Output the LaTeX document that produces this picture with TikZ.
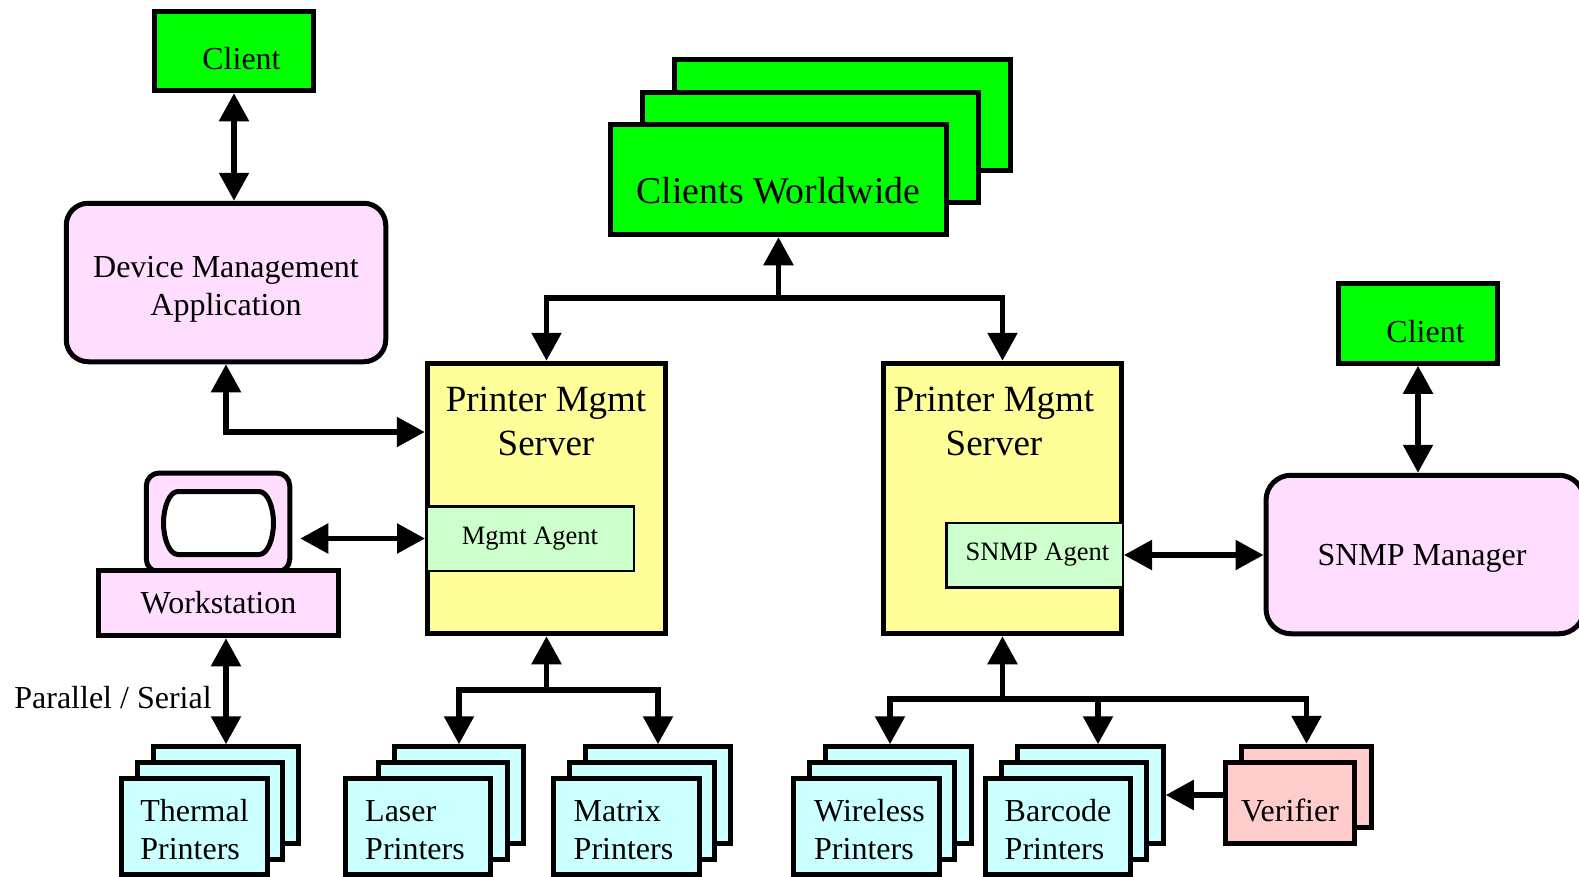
\documentclass[tikz,border=0pt]{standalone}
\usepackage{fontspec}
\setmainfont{Liberation Serif}
\usetikzlibrary{arrows.meta}

\definecolor{clientgreen}{HTML}{00FF00}
\definecolor{appmagenta}{HTML}{FFDDFF}
\definecolor{serveryellow}{HTML}{FFFF99}
\definecolor{agentgreen}{HTML}{CCFFCC}
\definecolor{printercyan}{HTML}{CCFFFF}
\definecolor{verifierpink}{HTML}{FFCCCC}

\begin{document}
\begin{tikzpicture}[x=1pt, y=-1pt]
    \tikzset{
        box/.style={draw=black, line width=5pt, inner sep=0pt, align=center,
            font=\fontsize{32}{38}\selectfont},
        client/.style={box, fill=clientgreen, minimum width=159.5pt, minimum height=79.5pt, text height=38pt},
        worldwide/.style={box, fill=clientgreen, minimum width=336.5pt, minimum height=110.5pt,
            font=\fontsize{37.8}{42}\selectfont},
        app/.style={box, fill=appmagenta, rounded corners=22pt},
        server/.style={box, fill=serveryellow, minimum width=238.5pt, minimum height=270.5pt},
        server text/.style={align=center, inner sep=0pt, font=\fontsize{37}{44}\selectfont},
        agent/.style={box, line width=2.5pt, fill=agentgreen, minimum height=64.5pt,
            font=\fontsize{26.5}{30}\selectfont},
        printer/.style={box, fill=printercyan, align=left, minimum width=145.5pt, minimum height=96.5pt},
        verifier/.style={box, fill=verifierpink, minimum width=129.5pt, minimum height=81.5pt},
        link/.style={line width=5.5pt, -{Triangle[length=28pt,width=29pt]}},
        link both/.style={line width=5.5pt, {Triangle[length=28pt,width=29pt]}-{Triangle[length=28pt,width=29pt]}},
    }
    \useasboundingbox (0, 0) rectangle (1579, 876);

    % clients
    \node [client] (clientL) at (234, 51) {\hspace*{15pt}Client};
    \node [client] (clientR) at (1418, 323.5) {\hspace*{15pt}Client};
    \node [worldwide] (worldwide3) at (842.5, 115) {};
    \node [worldwide] (worldwide2) at (810.5, 147.5) {};
    \node [worldwide, text height=49pt] (worldwide) at (778.5, 179.5) {Clients Worldwide};

    % applications
    \node [app, minimum width=319.5pt, minimum height=158.5pt, text height=73pt] (device) at (226, 282.5)
        {Device Management\\Application};
    \node [app, rounded corners=25pt, minimum width=318pt, minimum height=158.5pt, text depth=0pt] (manager)
        at (1425, 554.5) {SNMP Manager\hspace*{6pt}};

    % servers
    \node [server] (serverL) at (546.5, 498.5) {};
    \node [server] (serverR) at (1002.5, 498.5) {};
    \node [server text] (serverLtext) at (546, 421) {Printer Mgmt\\Server};
    \node [server text] (serverRtext) at (994, 421) {Printer Mgmt\\Server};
    \node [agent, minimum width=207.5pt] (agentL) at (530, 538.5) {Mgmt Agent};
    \node [agent, minimum width=176.5pt] (agentR) at (1034.5, 555) {\hspace*{6pt}SNMP Agent};

    % workstation
    \node [app, rounded corners=13pt, minimum width=143.5pt, minimum height=99pt] (monitor)
        at (218, 522.5) {};
    \draw [line width=5pt, fill=white] (178, 491.5) -- (259, 491.5)
        .. controls (268, 491.5) and (273.5, 508) .. (273.5, 523)
        .. controls (273.5, 538) and (268, 554.5) .. (259, 554.5) -- (178, 554.5)
        .. controls (169, 554.5) and (163.5, 538) .. (163.5, 523)
        .. controls (163.5, 508) and (169, 491.5) .. (178, 491.5) -- cycle;
    \node [box, fill=appmagenta, minimum width=240.5pt, minimum height=65.5pt] (workstation)
        at (218.5, 603) {Workstation};
    \node [inner sep=0pt, font=\fontsize{32}{38}\selectfont] (parallel) at (113, 698)
        {Parallel / Serial};

    % printers
    \node [printer] (thermal3) at (226, 795) {};
    \node [printer] (thermal2) at (210, 811) {};
    \node [printer, text height=67pt] (thermal) at (194.5, 826.5) {Thermal\\Printers};
    \node [printer, minimum width=129.5pt] (laser3) at (459, 795) {};
    \node [printer, minimum width=129.5pt] (laser2) at (443, 811) {};
    \node [printer, text height=67pt] (laser) at (418, 826.5) {Laser\\Printers\hspace*{6pt}};
    \node [printer] (matrix3) at (658, 795) {};
    \node [printer] (matrix2) at (642, 811) {};
    \node [printer, text height=67pt] (matrix) at (626.5, 826.5) {Matrix\\Printers\hspace*{6pt}};
    \node [printer] (wireless3) at (898.5, 795) {};
    \node [printer] (wireless2) at (882, 811) {};
    \node [printer, text height=67pt] (wireless) at (866.5, 826.5)
        {\hspace*{6pt}Wireless\\\hspace*{6pt}Printers};
    \node [printer] (barcode3) at (1090.5, 795) {};
    \node [printer] (barcode2) at (1074, 811) {};
    \node [printer, text height=67pt] (barcode) at (1058, 826.5) {Barcode\\Printers};
    \node [verifier] (verifier2) at (1306.5, 787) {};
    \node [verifier, text height=38pt] (verifier) at (1290, 803) {Verifier};

    % junctions of the buses
    \coordinate (busTop) at (778.5, 298);
    \coordinate (busL) at (546.5, 690);
    \coordinate (busR) at (1002.5, 699);

    \draw [link both] (clientL.south) -- (clientL.south |- device.north);
    \draw [link both] (clientR.south) -- (clientR.south |- manager.north);
    \draw [link both] (device.south) |- ([yshift=66.5pt]serverL.west);
    \draw [link both] ([xshift=8pt]monitor.east |- agentL.west) -- (agentL.west);
    \draw [link both] (agentR.east) -- (manager.west |- agentR.east);
    \draw [link both] (thermal3.north) -- (thermal3.north |- workstation.south);
    \draw [link] (busTop) -- (worldwide.south);
    \draw [link] (busTop) -| (serverL.north);
    \draw [link] (busTop) -| (serverR.north);
    \draw [link] (busL) -- (serverL.south);
    \draw [link] (busL) -| (laser3.north);
    \draw [link] (busL) -| (matrix3.north);
    \draw [link] (busR) -- (serverR.south);
    \draw [link] (busR) -| ([xshift=-8.5pt]wireless3.north);
    \draw [link] (busR) -| ([xshift=7.5pt]barcode3.north);
    \draw [link] (busR) -| (verifier2.north);
    \draw [link] (verifier.west |- barcode3.east) -- (barcode3.east);
\end{tikzpicture}
\end{document}
